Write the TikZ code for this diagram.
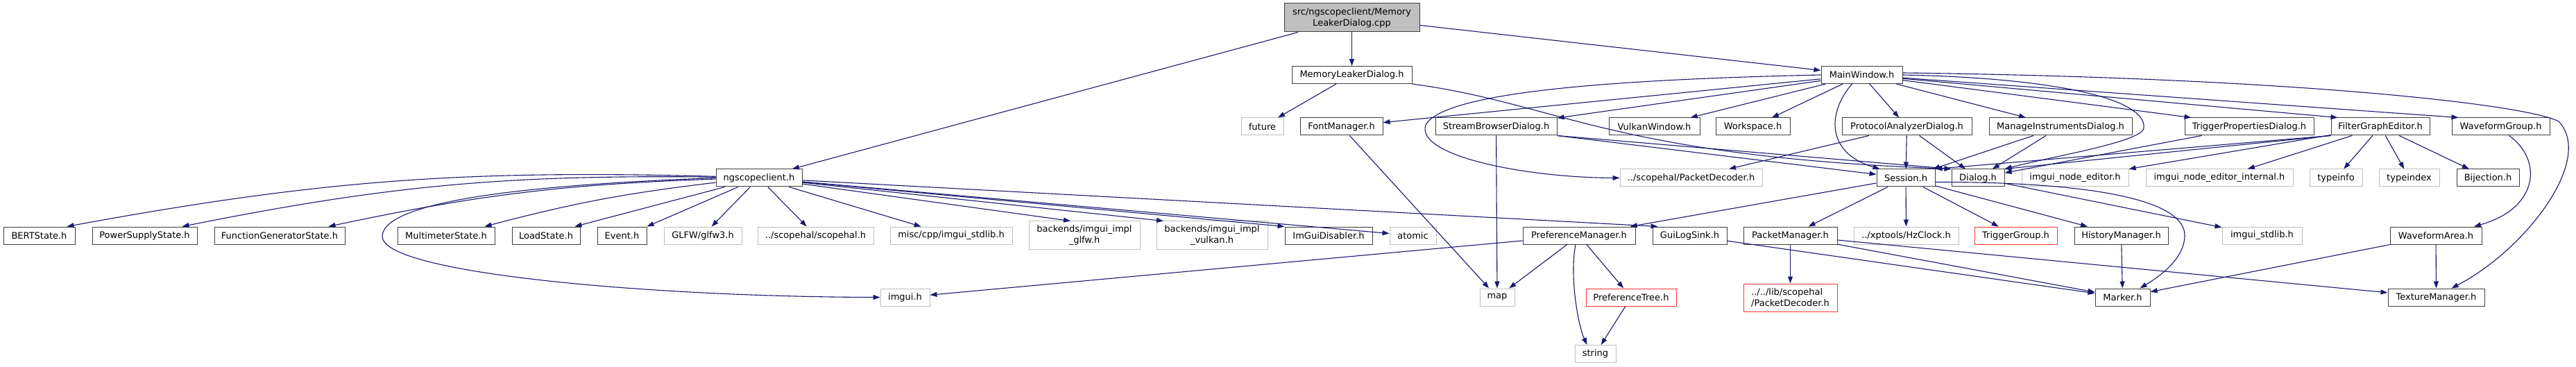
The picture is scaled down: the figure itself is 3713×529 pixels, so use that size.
\documentclass[tikz,border=0pt]{standalone}
\usepackage{fontspec}
\setmainfont{DejaVu Sans}
\usetikzlibrary{arrows.meta}
\definecolor{edgeblue}{HTML}{191970}
\definecolor{darkborder}{HTML}{404040}
\definecolor{lightborder}{HTML}{BFBFBF}
\definecolor{redborder}{HTML}{FF3333}
\begin{document}
\begin{tikzpicture}[x=1pt,y=-1pt,
  box/.style={draw=darkborder,line width=1pt,fill=white,inner sep=2pt,minimum height=25pt,font=\fontsize{13}{16}\selectfont,anchor=center,align=center},
  ext/.style={box,draw=lightborder},
  trunc/.style={box,draw=redborder},
  topnode/.style={box,fill=lightborder},
  edge/.style={draw=edgeblue,line width=1.1pt,-{Triangle[length=10pt,width=7pt]}},
]
\useasboundingbox[fill=white] (0,0) rectangle (3713,529);

% row A
\node[topnode,minimum width=195pt,minimum height=41pt] (cpp) at (1948.5,25.5) {src/ngscopeclient/Memory\\LeakerDialog.cpp};
% row B
\node[box,minimum width=173pt] (mld) at (1948.5,108) {MemoryLeakerDialog.h};
\node[box,minimum width=117pt] (mw) at (2683.5,108) {MainWindow.h};
% row C
\node[ext,minimum width=61pt] (future) at (1819.5,182.5) {future};
\node[box,minimum width=119pt] (fontm) at (1933.5,182.5) {FontManager.h};
\node[box,minimum width=175pt] (sbd) at (2156.5,182.5) {StreamBrowserDialog.h};
\node[box,minimum width=131pt] (vulkan) at (2384.5,182.5) {VulkanWindow.h};
\node[box,minimum width=107pt] (workspace) at (2526.5,182.5) {Workspace.h};
\node[box,minimum width=187pt] (pad) at (2748.5,182.5) {ProtocolAnalyzerDialog.h};
\node[box,minimum width=206pt] (mid) at (2970,182.5) {ManageInstrumentsDialog.h};
\node[box,minimum width=186pt] (tpd) at (3242,182.5) {TriggerPropertiesDialog.h};
\node[box,minimum width=142pt] (fge) at (3431,182.5) {FilterGraphEditor.h};
\node[box,minimum width=141pt] (wfg) at (3604.5,182.5) {WaveformGroup.h};
% row D
\node[box,minimum width=124pt] (ngs) at (1094,256.5) {ngscopeclient.h};
\node[ext,minimum width=205pt] (pdec) at (2437.5,256.5) {../scopehal/PacketDecoder.h};
\node[box,minimum width=84pt] (session) at (2747,256.5) {Session.h};
\node[box,minimum width=76pt] (dialog) at (2851,256.5) {Dialog.h};
\node[ext,minimum width=154pt] (ine) at (2991,256.5) {imgui\_node\_editor.h};
\node[ext,minimum width=212pt] (inei) at (3199,256.5) {imgui\_node\_editor\_internal.h};
\node[ext,minimum width=76pt] (typeinfo) at (3367,256.5) {typeinfo};
\node[ext,minimum width=87pt] (typeindex) at (3472.5,256.5) {typeindex};
\node[box,minimum width=90pt] (bij) at (3586,256.5) {Bijection.h};
% row E
\node[box,minimum width=103pt] (bert) at (56.5,339.5) {BERTState.h};
\node[box,minimum width=151pt] (psu) at (208.5,339.5) {PowerSupplyState.h};
\node[box,minimum width=188pt] (fg) at (403,339.5) {FunctionGeneratorState.h};
\node[box,minimum width=140pt] (mm) at (643,339.5) {MultimeterState.h};
\node[box,minimum width=98pt] (load) at (787,339.5) {LoadState.h};
\node[box,minimum width=71pt] (event) at (896.5,339.5) {Event.h};
\node[ext,minimum width=112pt] (glfw) at (1013,339.5) {GLFW/glfw3.h};
\node[ext,minimum width=167pt] (scopehal) at (1175.5,339.5) {../scopehal/scopehal.h};
\node[ext,minimum width=176pt] (stdlib) at (1371,339.5) {misc/cpp/imgui\_stdlib.h};
\node[ext,minimum width=160pt,minimum height=40pt] (bglfw) at (1563,339) {backends/imgui\_impl\\\_glfw.h};
\node[ext,minimum width=160pt,minimum height=40pt] (bvulkan) at (1747,339) {backends/imgui\_impl\\\_vulkan.h};
\node[box,minimum width=126pt] (disabler) at (1915,339.5) {ImGuiDisabler.h};
\node[ext,minimum width=67pt] (atomic) at (2036.5,339.5) {atomic};
\node[box,minimum width=162pt] (prefm) at (2276,339.5) {PreferenceManager.h};
\node[box,minimum width=107pt] (guilog) at (2435.5,339.5) {GuiLogSink.h};
\node[box,minimum width=135pt] (pktm) at (2580.5,339.5) {PacketManager.h};
\node[ext,minimum width=151pt] (hz) at (2747.5,339.5) {../xptools/HzClock.h};
\node[trunc,minimum width=119pt] (tgroup) at (2905.5,339.5) {TriggerGroup.h};
\node[box,minimum width=135pt] (hist) at (3057.5,339.5) {HistoryManager.h};
\node[ext,minimum width=115pt] (istdlib) at (3260.5,339.5) {imgui\_stdlib.h};
\node[box,minimum width=132pt] (wfa) at (3511,339.5) {WaveformArea.h};
% row F
\node[ext,minimum width=71pt] (imgui) at (1304.5,428.5) {imgui.h};
\node[ext,minimum width=50pt] (map) at (2158,428.5) {map};
\node[trunc,minimum width=130pt] (ptree) at (2351,428.5) {PreferenceTree.h};
\node[trunc,minimum width=135pt,minimum height=40pt,align=left] (lpdec) at (2580.5,429) {../../lib/scopehal\\/PacketDecoder.h};
\node[box,minimum width=79pt] (marker) at (3059.5,428.5) {Marker.h};
\node[box,minimum width=139pt] (texm) at (3511.5,428.5) {TextureManager.h};
% row G
\node[ext,minimum width=59pt] (string) at (2299.5,510) {string};

% edges from cpp
\draw[edge] (cpp) -- (ngs);
\draw[edge] (cpp) -- (mld);
\draw[edge] (cpp) -- (mw);
% MemoryLeakerDialog.h
\draw[edge] (mld) -- (future);
\draw[edge] (mld.south east) .. controls (2250,150) and (2320,225) .. (dialog.north west);
% MainWindow.h
\draw[edge] (mw) -- (fontm);
\draw[edge] (mw) -- (sbd);
\draw[edge] (mw) -- (vulkan);
\draw[edge] (mw) -- (workspace);
\draw[edge] (mw) -- (pad);
\draw[edge] (mw) -- (mid);
\draw[edge] (mw) -- ([xshift=10pt]tpd.north west);
\draw[edge] (mw) -- ([xshift=10pt]fge.north west);
\draw[edge] (mw) -- ([xshift=10pt]wfg.north west);
\draw[edge] (mw.west) .. controls (2300,115) and (2080,135) .. (2055,180) .. controls (2040,225) and (2200,256) .. (pdec.west);
\draw[edge] ([xshift=-14pt]mw.south) .. controls (2635,160) and (2630,220) .. ([xshift=5pt]session.north west);
\draw[edge] (mw.east) .. controls (2950,112) and (3095,140) .. (3090,185) .. controls (3085,205) and (2960,225) .. (dialog.north east);
\draw[edge] ([yshift=3pt]mw.east) .. controls (3300,112) and (3640,150) .. (3688,175) .. controls (3740,230) and (3640,360) .. ([xshift=22pt]texm.north);
% row C sources
\draw[edge] (fontm) -- (map);
\draw[edge] (sbd) -- (map);
\draw[edge] (sbd.south east) -- (session);
\draw[edge] (sbd.south east) -- (dialog.north west);
\draw[edge] (pad) -- (pdec);
\draw[edge] (pad) -- (session);
\draw[edge] (pad) -- (dialog);
\draw[edge] (mid) -- (session);
\draw[edge] (mid) -- (dialog);
\draw[edge] (tpd) -- (dialog);
\draw[edge] (fge.south west) -- (session.north east);
\draw[edge] (fge.south west) -- (dialog.north east);
\draw[edge] (fge) -- (ine);
\draw[edge] (fge) -- (inei);
\draw[edge] (fge) -- (typeinfo);
\draw[edge] (fge) -- (typeindex);
\draw[edge] (fge) -- (bij);
\draw[edge] ([xshift=12pt]wfg.south) .. controls (3665,230) and (3660,300) .. ([xshift=55pt]wfa.north);
% ngscopeclient.h
\draw[edge] (ngs) to[bend right=6] ([xshift=-12pt]bert.north east);
\draw[edge] (ngs) to[bend right=6] ([xshift=-22pt]psu.north east);
\draw[edge] (ngs) to[bend right=5] ([xshift=-24pt]fg.north east);
\draw[edge] (ngs) to[bend right=4] ([xshift=-15pt]mm.north east);
\draw[edge] (ngs) -- ([xshift=-8pt]load.north east);
\draw[edge] (ngs) -- (event.north east);
\draw[edge] (ngs) -- (glfw);
\draw[edge] (ngs) -- (scopehal);
\draw[edge] (ngs) -- (stdlib);
\draw[edge] (ngs) -- ([xshift=-20pt]bglfw.north);
\draw[edge] (ngs) -- ([xshift=-70pt]bvulkan.north);
\draw[edge] (ngs) -- (disabler.north west);
\draw[edge] (ngs) -- (atomic);
\draw[edge] (ngs) -- ([xshift=8pt]guilog.north west);
\draw[edge] (ngs.west) .. controls (800,265) and (555,285) .. (551,340) .. controls (548,395) and (950,428) .. (imgui.west);
% Session.h
\draw[edge] (session) -- (prefm);
\draw[edge] (session) -- (pktm);
\draw[edge] (session) -- (hz);
\draw[edge] (session) -- (tgroup);
\draw[edge] (session) -- (hist);
\draw[edge] ([yshift=-6pt]session.east) .. controls (3000,262) and (3150,285) .. (3149,340) .. controls (3148,375) and (3110,400) .. ([xshift=25pt]marker.north);
% Dialog.h
\draw[edge] (dialog) -- (istdlib);
% row E sources
\draw[edge] (prefm) -- (imgui);
\draw[edge] (prefm) -- (map);
\draw[edge] (prefm) -- (ptree);
\draw[edge] ([xshift=-5pt]prefm.south) .. controls (2262,400) and (2275,470) .. ([xshift=-12pt]string.north);
\draw[edge] (guilog) -- (marker);
\draw[edge] (pktm) -- (lpdec);
\draw[edge] (pktm) -- (marker);
\draw[edge] (pktm) -- (texm);
\draw[edge] (hist) -- (marker);
\draw[edge] (wfa) -- (marker);
\draw[edge] (wfa) -- (texm);
% row F sources
\draw[edge] (ptree) -- (string);
\end{tikzpicture}
\end{document}
